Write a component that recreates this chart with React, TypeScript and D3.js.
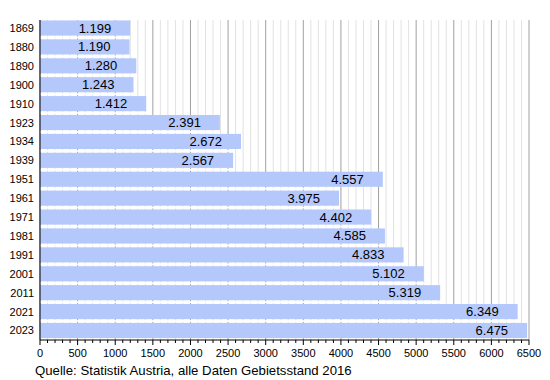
import React from "react";
import * as d3 from "d3";

const years = ["1869","1880","1890","1900","1910","1923","1934","1939","1951","1961","1971","1981","1991","2001","2011","2021","2023"];
const population = [1199,1190,1280,1243,1412,2391,2672,2567,4557,3975,4402,4585,4833,5102,5319,6349,6475];
const majorTicks = d3.range(0, 6501, 500);
const minorTicks = d3.range(0, 6501, 100);
const source = "Quelle: Statistik Austria, alle Daten Gebietsstand 2016";

const W = 550, H = 380;
const left = 40, right = 529, top = 20, bottom = 340;

export default function App() {
  const x = d3.scaleLinear().domain([0, 6500]).range([left, right]);
  const y = d3.scaleBand<string>().domain(years).range([19.5, 339]).paddingInner(0.2).paddingOuter(0.05);
  const fmt = (v: number) => d3.format(".3f")(v / 1000);
  const font = "Liberation Sans, Arial, sans-serif";
  const bw = y.bandwidth();
  return (
    <svg width={W} height={H} style={{ position: "absolute", left: 0, top: 0, background: "#fff" }} fontFamily={font}>
      {minorTicks.map((t) => (
        <line key={"g" + t} x1={x(t)} x2={x(t)} y1={top} y2={bottom}
          stroke={t % 500 === 0 ? "#a0a0a0" : "#e2e2e2"} strokeWidth={1} />
      ))}
      {years.slice(0, -1).map((yr, i) => {
        const y0 = y(yr)! + bw + 1;
        const y1 = y(years[i + 1])! - 1;
        const w = Math.min(x(population[i]), x(population[i + 1])) - x(0);
        return <rect key={"w" + yr} x={x(0)} y={y0} width={w} height={Math.max(0, y1 - y0)} fill="#fff" />;
      })}
      {years.map((yr, i) => (
        <g key={yr}>
          <rect x={x(0)} y={y(yr)!} width={x(population[i]) - x(0)} height={bw} fill="#b4c8fc" />
          <text x={x(population[i]) - 19} y={y(yr)! + bw / 2 + 4.5} fontSize={13} textAnchor="end" fill="#000">{fmt(population[i])}</text>
          <text x={34} y={y(yr)! + bw / 2 + 4} fontSize={11} textAnchor="end" fill="#000">{yr}</text>
        </g>
      ))}
      <line x1={left} x2={left} y1={top} y2={bottom} stroke="#000" />
      <line x1={left} x2={right} y1={bottom} y2={bottom} stroke="#000" />
      {minorTicks.map((t) => (
        <line key={"t" + t} x1={x(t)} x2={x(t)} y1={bottom} y2={bottom + (t % 500 === 0 ? 5 : 3)} stroke="#000" />
      ))}
      {majorTicks.map((t) => (
        <text key={"l" + t} x={x(t)} y={357} fontSize={11} textAnchor="middle" fill="#000">{t}</text>
      ))}
      <text x={35} y={375} fontSize={13.2} fill="#000">{source}</text>
    </svg>
  );
}
